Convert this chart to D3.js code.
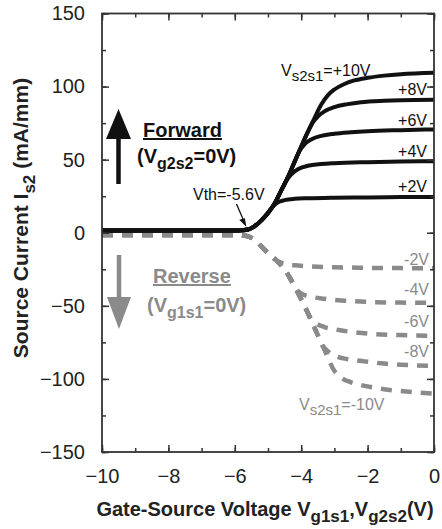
<!DOCTYPE html>
<html><head><meta charset="utf-8">
<script src="https://cdn.jsdelivr.net/npm/d3@7"></script>
<style>body{margin:0;background:#fff}svg{display:block}text{font-family:"Liberation Sans",Arial,sans-serif}</style>
</head><body><svg id="c" width="442" height="529"></svg>
<script>
// ---- data ----
const xTicks = [-10, -8, -6, -4, -2, 0];
const yTicks = [-150, -100, -50, 0, 50, 100, 150];
const fwdLabels = ["+2V", "+4V", "+6V", "+8V", "+10V"];
const revLabels = ["-2V", "-4V", "-6V", "-8V", "-10V"];
const fwd2 = [[-10,1.5],[-8,1.5],[-6,1.5],[-5.8,1.7],[-5.6,2.2],[-5.4,4.5],[-5.2,8.5],[-5.0,13.5],[-4.85,18],[-4.7,20.8],[-4.5,22.3],[-4.2,23.2],[-3.8,23.6],[-3,24],[-2,24.2],[-1,24.4],[0,24.5]];
const fwd4 = [[-10,1.5],[-8,1.5],[-6,1.5],[-5.8,1.7],[-5.6,2.2],[-5.4,4.5],[-5.2,8.5],[-5.0,13.5],[-4.8,20],[-4.6,29],[-4.45,35.5],[-4.3,40],[-4.1,43.5],[-3.8,45.8],[-3.4,47],[-3,47.6],[-2,48.3],[-1,48.7],[0,49]];
const fwd6 = [[-10,1.5],[-8,1.5],[-6,1.5],[-5.8,1.7],[-5.6,2.2],[-5.4,4.5],[-5.2,8.5],[-5.0,13.5],[-4.8,20],[-4.6,29],[-4.4,38],[-4.2,48.5],[-4.05,56],[-3.9,60.5],[-3.7,63.8],[-3.4,66.3],[-3,67.8],[-2.5,68.8],[-2,69.5],[-1,70.2],[0,70.7]];
const fwd8 = [[-10,1.5],[-8,1.5],[-6,1.5],[-5.8,1.7],[-5.6,2.2],[-5.4,4.5],[-5.2,8.5],[-5.0,13.5],[-4.8,20],[-4.6,29],[-4.4,38],[-4.2,48.5],[-4.0,59],[-3.8,69],[-3.65,75.5],[-3.5,79.5],[-3.3,83],[-3,86],[-2.6,88],[-2.2,89.3],[-1.5,90.3],[-1,90.7],[0,91]];
const fwd10 = [[-10,1.5],[-8,1.5],[-6,1.5],[-5.8,1.7],[-5.6,2.2],[-5.4,4.5],[-5.2,8.5],[-5.0,13.5],[-4.8,20],[-4.6,29],[-4.4,38],[-4.2,48.5],[-4.0,59],[-3.8,69],[-3.6,78.5],[-3.4,87.5],[-3.2,94],[-3.0,98],[-2.7,101.8],[-2.4,104.2],[-2,106],[-1.5,107.5],[-1,108.5],[0,109.5]];
const rev2 = [[-10,-1.5],[-8,-1.5],[-6,-1.5],[-5.8,-1.7],[-5.6,-2.5],[-5.4,-5],[-5.15,-10.5],[-4.9,-16],[-4.7,-19.5],[-4.5,-21.3],[-4.2,-22.3],[-3.8,-22.9],[-3,-23.6],[-2,-24],[-1,-24.2],[0,-24.3]];
const rev4 = [[-10,-1.5],[-8,-1.5],[-6,-1.5],[-5.8,-1.7],[-5.6,-2.5],[-5.4,-5],[-5.15,-10.5],[-4.9,-16],[-4.7,-20],[-4.5,-25],[-4.3,-32.5],[-4.15,-38.5],[-4.0,-41.5],[-3.7,-43.8],[-3.3,-45.2],[-2.7,-46.5],[-2,-47.3],[-1,-47.8],[0,-48]];
const rev6 = [[-10,-1.5],[-8,-1.5],[-6,-1.5],[-5.8,-1.7],[-5.6,-2.5],[-5.4,-5],[-5.15,-10.5],[-4.9,-16],[-4.7,-20],[-4.5,-25],[-4.3,-32.5],[-4.1,-41],[-3.9,-50],[-3.75,-57],[-3.6,-61],[-3.3,-64.5],[-3,-66],[-2.5,-67.8],[-2,-69],[-1,-70],[0,-70.7]];
const rev8 = [[-10,-1.5],[-8,-1.5],[-6,-1.5],[-5.8,-1.7],[-5.6,-2.5],[-5.4,-5],[-5.15,-10.5],[-4.9,-16],[-4.7,-20],[-4.5,-25],[-4.3,-32.5],[-4.1,-41],[-3.9,-50],[-3.7,-60],[-3.5,-70],[-3.35,-77.5],[-3.2,-81],[-3,-84],[-2.6,-86.5],[-2.1,-88],[-1.5,-89.5],[-1,-90.3],[0,-91]];
const rev10 = [[-10,-1.5],[-8,-1.5],[-6,-1.5],[-5.8,-1.7],[-5.6,-2.5],[-5.4,-5],[-5.15,-10.5],[-4.9,-16],[-4.7,-20],[-4.5,-25],[-4.3,-32.5],[-4.1,-41],[-3.9,-50],[-3.7,-60],[-3.5,-70],[-3.3,-80],[-3.15,-88],[-3.0,-94.5],[-2.8,-99],[-2.5,-102.3],[-2.2,-104.2],[-1.8,-106],[-1.4,-107.4],[-1,-108.3],[0,-110]];
const fwdSeries = [fwd2, fwd4, fwd6, fwd8, fwd10];
const revSeries = [rev2, rev4, rev6, rev8, rev10];

// ---- layout ----
const L = 102, R = 434, T = 13.5, B = 452;
const BLACK = "#111", GRAY = "#8a8a8a", AX = "#333";
const svg = d3.select("#c");
const x = d3.scaleLinear().domain([-10, 0]).range([L, R]);
const y = d3.scaleLinear().domain([-150, 150]).range([B, T]);
const line = d3.line().x(d => x(d[0])).y(d => y(d[1])).curve(d3.curveMonotoneX);

// reverse (dashed gray)
svg.append("g").selectAll("path").data(revSeries).join("path")
  .attr("d", line).attr("fill", "none").attr("stroke", GRAY)
  .attr("stroke-width", 4.5).attr("stroke-dasharray", "11,9");
// forward (black)
svg.append("g").selectAll("path").data(fwdSeries).join("path")
  .attr("d", line).attr("fill", "none").attr("stroke", BLACK)
  .attr("stroke-width", 4).attr("stroke-linejoin", "round");

// axes with inward ticks
const minorX = d3.range(-10, 0.01, 1), minorY = d3.range(-150, 150.01, 25);
function styleAxis(g) {
  g.select(".domain").remove();
  g.selectAll("line").attr("stroke", AX).attr("stroke-width", 1.5);
}
const tf = d3.format("d");
svg.append("g").attr("transform", `translate(0,${B})`)
  .call(d3.axisBottom(x).tickValues(minorX).tickSize(-4).tickFormat("")).call(styleAxis);
svg.append("g").attr("transform", `translate(0,${B})`)
  .call(d3.axisBottom(x).tickValues(xTicks).tickSize(-7).tickPadding(17).tickFormat(tf)).call(styleAxis)
  .selectAll("text").attr("font-size", 20).attr("fill", "#222");
svg.append("g").attr("transform", `translate(0,${T})`)
  .call(d3.axisTop(x).tickValues(minorX).tickSize(-4).tickFormat("")).call(styleAxis);
svg.append("g").attr("transform", `translate(0,${T})`)
  .call(d3.axisTop(x).tickValues(xTicks).tickSize(-7).tickFormat("")).call(styleAxis);
svg.append("g").attr("transform", `translate(${L},0)`)
  .call(d3.axisLeft(y).tickValues(minorY).tickSize(-4).tickFormat("")).call(styleAxis);
svg.append("g").attr("transform", `translate(${L},0)`)
  .call(d3.axisLeft(y).tickValues(yTicks).tickSize(-7).tickPadding(17).tickFormat(tf)).call(styleAxis)
  .selectAll("text").attr("font-size", 20).attr("fill", "#222");
svg.append("g").attr("transform", `translate(${R},0)`)
  .call(d3.axisRight(y).tickValues(minorY).tickSize(-4).tickFormat("")).call(styleAxis);
svg.append("g").attr("transform", `translate(${R},0)`)
  .call(d3.axisRight(y).tickValues(yTicks).tickSize(-7).tickFormat("")).call(styleAxis);
svg.append("rect").attr("x", L).attr("y", T).attr("width", R - L).attr("height", B - T)
  .attr("fill", "none").attr("stroke", AX).attr("stroke-width", 1.8);

// helper for text with subscript parts: parts = [[text, isSub], ...]
function rich(g, parts, size, subSize, attrs) {
  const t = g.append("text").attr("font-size", size);
  Object.entries(attrs).forEach(([k, v]) => t.attr(k, v));
  let prevSub = false;
  parts.forEach(([s, sub]) => {
    const ts = t.append("tspan").text(s);
    if (sub) ts.attr("font-size", subSize);
    if (sub && !prevSub) ts.attr("dy", size * 0.32);
    if (!sub && prevSub) ts.attr("dy", -size * 0.32);
    prevSub = sub;
  });
  return t;
}

// axis titles
rich(svg, [["Gate-Source Voltage V", false], ["g1s1", true], [",V", false], ["g2s2", true], ["(V)", false]], 20, 17,
  { x: 265, y: 516, "text-anchor": "middle", "font-weight": "bold", fill: "#222" });
rich(svg, [["Source Current I", false], ["s2", true], [" (mA/mm)", false]], 21, 17,
  { transform: "translate(28,218) rotate(-90)", "text-anchor": "middle", "font-weight": "bold", fill: "#222" });

// curve labels
rich(svg, [["V", false], ["s2s1", true], ["=+10V", false]], 16, 15, { x: 281, y: 76, fill: BLACK });
const fwdLabelY = [192, 157, 126, 95];
fwdLabels.slice(0, 4).forEach((s, i) => svg.append("text").attr("x", 427).attr("y", fwdLabelY[i])
  .attr("text-anchor", "end").attr("font-size", 16).attr("fill", BLACK).text(s));
const revLabelY = [265, 295, 327, 357];
revLabels.slice(0, 4).forEach((s, i) => svg.append("text").attr("x", 429).attr("y", revLabelY[i])
  .attr("text-anchor", "end").attr("font-size", 16).attr("fill", GRAY).text(s));
rich(svg, [["V", false], ["s2s1", true], ["=-10V", false]], 16, 15, { x: 299, y: 410, fill: GRAY });

// Vth annotation
svg.append("text").attr("x", 193).attr("y", 200).attr("font-size", 16).attr("fill", BLACK).text("Vth=-5.6V");
svg.append("line").attr("x1", x(-5.95)).attr("y1", 204).attr("x2", x(-5.7)).attr("y2", 223)
  .attr("stroke", BLACK).attr("stroke-width", 1.3);
svg.append("path").attr("d", `M${x(-5.68)},${225} l-5,-5 l4,-1 z`).attr("fill", BLACK).attr("stroke", BLACK).attr("stroke-width", 1.2);

// Forward / Reverse annotations
svg.append("text").attr("x", 143).attr("y", 137).attr("font-size", 20).attr("font-weight", "bold")
  .attr("fill", BLACK).attr("text-decoration", "underline").text("Forward");
rich(svg, [["(V", false], ["g2s2", true], ["=0V)", false]], 20, 16, { x: 137, y: 163, "font-weight": "bold", fill: BLACK });
svg.append("text").attr("x", 153).attr("y", 283).attr("font-size", 20).attr("font-weight", "bold")
  .attr("fill", GRAY).attr("text-decoration", "underline").text("Reverse");
rich(svg, [["(V", false], ["g1s1", true], ["=0V)", false]], 20, 16, { x: 147, y: 312, "font-weight": "bold", fill: GRAY });

// arrows
svg.append("line").attr("x1", 118.5).attr("y1", 184).attr("x2", 118.5).attr("y2", 136).attr("stroke", BLACK).attr("stroke-width", 4.5);
svg.append("path").attr("d", "M106,139 L131,139 L118.5,109 Z").attr("fill", BLACK);
svg.append("line").attr("x1", 119).attr("y1", 255).attr("x2", 119).attr("y2", 299).attr("stroke", GRAY).attr("stroke-width", 4.5);
svg.append("path").attr("d", "M107,297 L131,297 L119,329 Z").attr("fill", GRAY);
</script></body></html>
